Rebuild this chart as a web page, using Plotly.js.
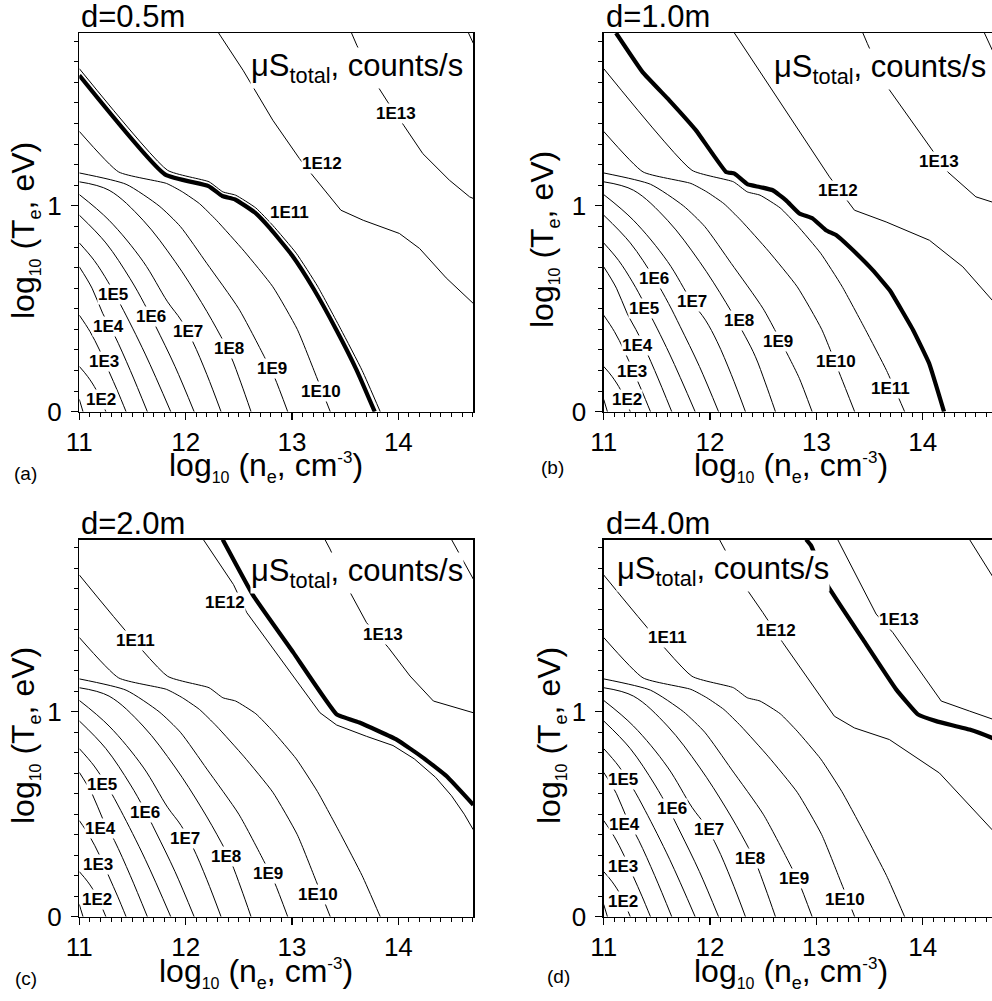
<!DOCTYPE html>
<html>
<head>
<meta charset="utf-8">
<script src="https://cdn.plot.ly/plotly-3.0.1.min.js"></script>
<style>
html,body{margin:0;padding:0;overflow:hidden;background:#fff;}
#chart{width:1000px;height:1001px;}
</style>
</head>
<body>
<div id="chart"></div>
<script>
// ---------------- DATA ----------------
// Shared low-density contour family (identical in all four panels): log10(ne), log10(Te)
const E1_x = [11.0, 11.035];                       const E1_y = [0.06, 0];
const E2_x = [11.0, 11.08, 11.16, 11.25];          const E2_y = [0.22, 0.17, 0.105, 0];
const E3_x = [11.0, 11.1, 11.19, 11.28, 11.36, 11.44];
const E3_y = [0.469, 0.39, 0.30, 0.194, 0.10, 0];
const E4_x = [11.0, 11.12, 11.22, 11.33, 11.48, 11.64];
const E4_y = [0.704, 0.60, 0.478, 0.372, 0.20, 0];
const E5_x = [11.0, 11.14, 11.27, 11.39, 11.62, 11.86];
const E5_y = [0.82, 0.735, 0.631, 0.518, 0.28, 0];
const E6_x = [11.0, 11.25, 11.477, 11.61, 11.72, 11.9, 12.08];
const E6_y = [0.955, 0.82, 0.647, 0.526, 0.413, 0.22, 0];
const E7_x = [11.0, 11.28, 11.6, 11.83, 11.957, 12.067, 12.2, 12.333];
const E7_y = [1.055, 0.93, 0.73, 0.534, 0.445, 0.34, 0.18, 0];
const E8_x = [11.0, 11.28, 11.6, 11.9, 12.15, 12.333, 12.427, 12.52, 12.615];
const E8_y = [1.117, 1.076, 0.93, 0.73, 0.53, 0.364, 0.267, 0.14, 0];
const E9_x = [11.0, 11.44, 11.75, 11.95, 12.2, 12.5, 12.74, 12.84, 12.96];
const E9_y = [1.16, 1.105, 1.0, 0.9, 0.72, 0.5, 0.267, 0.162, 0];
const E10_x = [11.0, 11.37, 11.82, 11.97, 12.13, 12.29, 12.55, 12.82, 13.05, 13.23, 13.36];
const E10_y = [1.362, 1.165, 1.109, 1.068, 1.011, 0.93, 0.78, 0.607, 0.40, 0.17, 0];
const E11_x = [11.0, 11.83, 12.22, 12.35, 12.47, 12.66, 12.82, 13.04, 13.24, 13.46, 13.66, 13.83];
const E11_y = [1.667, 1.173, 1.117, 1.068, 1.052, 0.99, 0.905, 0.77, 0.61, 0.40, 0.2, 0];

// Panel (a) d=0.5m
const a_E12_x = [12.31, 12.54, 12.82, 13.07, 13.18, 13.46, 13.67, 14.01, 14.2, 14.45, 14.705];
const a_E12_y = [1.84, 1.659, 1.416, 1.23, 1.157, 0.979, 0.93, 0.866, 0.793, 0.65, 0.526];
const a_E13_x = [13.56, 13.61, 13.79, 13.90, 14.05, 14.23, 14.48, 14.67, 14.705];
const a_E13_y = [1.84, 1.78, 1.594, 1.505, 1.392, 1.254, 1.125, 1.044, 1.036];
const a_E14_x = [14.66, 14.705];  const a_E14_y = [1.84, 1.79];
const a_thick_x = [11.0, 11.805, 12.215, 12.345, 12.465, 12.65, 12.79, 13.0, 13.2, 13.42, 13.61, 13.778];
const a_thick_y = [1.634, 1.153, 1.096, 1.048, 1.031, 0.968, 0.893, 0.76, 0.6, 0.395, 0.2, 0];

// Panel (b) d=1.0m
const b_E12_x = [12.229, 12.6, 13.0, 13.123, 13.358, 13.656, 14.063, 14.377, 14.653, 14.705];
const b_E12_y = [1.84, 1.55, 1.24, 1.141, 0.979, 0.922, 0.833, 0.704, 0.542, 0.51];
const b_E13_x = [13.437, 13.48, 13.656, 14.063, 14.235, 14.50, 14.653, 14.705];
const b_E13_y = [1.84, 1.788, 1.586, 1.286, 1.165, 1.044, 1.019, 1.01];
const b_E14_x = [14.58, 14.65, 14.705];  const b_E14_y = [1.84, 1.764, 1.70];
const b_thick_x = [11.116, 11.366, 11.617, 11.868, 12.15, 12.23, 12.355, 12.465, 12.59, 12.715, 12.84, 12.965, 13.09, 13.185, 13.31, 13.53, 13.69, 13.91, 14.06, 14.2];
const b_thick_y = [1.84, 1.65, 1.513, 1.367, 1.165, 1.157, 1.104, 1.092, 1.076, 1.027, 0.963, 0.939, 0.882, 0.858, 0.801, 0.688, 0.59, 0.396, 0.235, 0];

// Panel (c) d=2.0m
const c_E12_x = [12.166, 12.45, 12.574, 13.263, 13.42, 13.70, 13.95, 14.15, 14.35, 14.5, 14.62, 14.705];
const c_E12_y = [1.84, 1.62, 1.484, 0.995, 0.935, 0.88, 0.835, 0.77, 0.68, 0.59, 0.5, 0.424];
const c_E13_x = [13.31, 13.357, 13.53, 13.70, 13.906, 14.11, 14.33, 14.705];
const c_E13_y = [1.84, 1.794, 1.598, 1.435, 1.313, 1.174, 1.052, 0.995];
const c_E14_x = [14.50, 14.705];  const c_E14_y = [1.84, 1.647];
const c_thick_x = [12.348, 12.636, 13.013, 13.42, 13.64, 13.984, 14.235, 14.455, 14.705];
const c_thick_y = [1.84, 1.566, 1.288, 0.987, 0.946, 0.864, 0.775, 0.685, 0.546];

// Panel (d) d=4.0m
const d_E12_x = [12.088, 12.323, 12.496, 12.684, 13.169, 13.357, 13.687, 14.157, 14.653, 14.705];
const d_E12_y = [1.84, 1.614, 1.484, 1.337, 0.978, 0.921, 0.864, 0.701, 0.424, 0.39];
const d_E13_x = [13.20, 13.562, 13.719, 14.174, 14.44, 14.653, 14.705];
const d_E13_y = [1.84, 1.476, 1.386, 1.052, 1.003, 0.962, 0.955];
const d_E14_x = [14.44, 14.653, 14.705];  const d_E14_y = [1.84, 1.663, 1.62];
const d_thick_x = [12.903, 12.95, 13.107, 13.436, 13.75, 13.954, 14.126, 14.44, 14.653, 14.705];
const d_thick_y = [1.84, 1.81, 1.614, 1.354, 1.109, 0.987, 0.954, 0.913, 0.872, 0.86];

// Contour labels
const levelLabels = ['1E2','1E3','1E4','1E5','1E6','1E7','1E8','1E9','1E10','1E11','1E12','1E13'];
const a_lab_x = [11.204, 11.235, 11.27, 11.32, 11.675, 12.02, 12.41, 12.81, 13.27, 12.975, 13.28, 13.98];
const a_lab_y = [0.057, 0.243, 0.416, 0.571, 0.461, 0.388, 0.308, 0.21, 0.097, 0.968, 1.205, 1.448];
const b_lab_x = [11.217, 11.267, 11.32, 11.38, 11.477, 11.83, 12.27, 12.636, 13.185, 13.70, 13.2, 14.15];
const b_lab_y = [0.057, 0.194, 0.324, 0.502, 0.647, 0.534, 0.445, 0.34, 0.243, 0.113, 1.076, 1.218];
const c_lab_x = [11.163, 11.18, 11.2, 11.21, 11.62, 11.994, 12.38, 12.777, 13.248, 11.533, 12.37, 13.853];
const c_lab_y = [0.082, 0.253, 0.432, 0.644, 0.506, 0.383, 0.294, 0.212, 0.106, 1.345, 1.533, 1.378];
const d_lab_x = [11.178, 11.185, 11.194, 11.178, 11.643, 11.994, 12.376, 12.793, 13.273, 11.602, 12.621, 13.775];
const d_lab_y = [0.073, 0.245, 0.448, 0.669, 0.53, 0.424, 0.285, 0.188, 0.085, 1.362, 1.394, 1.448];

const panelTitles = ['d=0.5m', 'd=1.0m', 'd=2.0m', 'd=4.0m'];
const panelTags = ['(a)', '(b)', '(c)', '(d)'];
const xTickVals = [11, 12, 13, 14];
const yTickVals = [0, 1];

// ---------------- BUILD ----------------
const FONT = 'Liberation Sans, Arial, Helvetica, sans-serif';
const shared = [
  [E1_x,E1_y,1],[E2_x,E2_y,1],[E3_x,E3_y,1],[E4_x,E4_y,1],[E5_x,E5_y,1],
  [E6_x,E6_y,1],[E7_x,E7_y,1],[E8_x,E8_y,1],[E9_x,E9_y,0.6],[E10_x,E10_y,0.5],[E11_x,E11_y,0.45]
];
const panels = [
  {xa:'x',  ya:'y',  E12:[a_E12_x,a_E12_y], E13:[a_E13_x,a_E13_y], E14:[a_E14_x,a_E14_y], thick:[a_thick_x,a_thick_y], ts:0.45, lx:a_lab_x, ly:a_lab_y},
  {xa:'x2', ya:'y2', E12:[b_E12_x,b_E12_y], E13:[b_E13_x,b_E13_y], E14:[b_E14_x,b_E14_y], thick:[b_thick_x,b_thick_y], ts:0.3, lx:b_lab_x, ly:b_lab_y},
  {xa:'x3', ya:'y3', E12:[c_E12_x,c_E12_y], E13:[c_E13_x,c_E13_y], E14:[c_E14_x,c_E14_y], thick:[c_thick_x,c_thick_y], ts:0.3, lx:c_lab_x, ly:c_lab_y},
  {xa:'x4', ya:'y4', E12:[d_E12_x,d_E12_y], E13:[d_E13_x,d_E13_y], E14:[d_E14_x,d_E14_y], thick:[d_thick_x,d_thick_y], ts:0.3, lx:d_lab_x, ly:d_lab_y}
];

function lineTrace(x, y, xa, ya, w, smooth) {
  return {type:'scatter', mode:'lines', x:x, y:y, xaxis:xa, yaxis:ya,
    line:{color:'black', width:w, shape: smooth > 0 ? 'spline' : 'linear', smoothing: smooth > 0 ? smooth : 1},
    hoverinfo:'skip', showlegend:false};
}

const traces = [];
const annotations = [];
panels.forEach(function(p, i){
  shared.forEach(function(s){ traces.push(lineTrace(s[0], s[1], p.xa, p.ya, 1, s[2])); });
  traces.push(lineTrace(p.E12[0], p.E12[1], p.xa, p.ya, 1, 0));
  traces.push(lineTrace(p.E13[0], p.E13[1], p.xa, p.ya, 1, 0));
  traces.push(lineTrace(p.E14[0], p.E14[1], p.xa, p.ya, 1, 0));
  traces.push(lineTrace(p.thick[0], p.thick[1], p.xa, p.ya, 4.2, p.ts));
  levelLabels.forEach(function(t, k){
    annotations.push({xref:p.xa, yref:p.ya, x:p.lx[k], y:p.ly[k], text:'<b>'+t+'</b>', showarrow:false,
      font:{family:FONT, size:17, color:'black'}, bgcolor:'white', borderpad:0, xanchor:'center', yanchor:'middle'});
  });
});

// Panel geometry (paper fractions) for a 1000 x 1001 layout
const W = 1000, H = 1001;
const colL = [79.3/W, 473.3/W], colR = [603.7/W, 997.7/W];
const rowT = [1-411.7/H, 1-33/H], rowB = [1-916.7/H, 1-539.5/H];

const muPos = [[12.606,1.672,'x','y'],[12.59,1.663,'x2','y2'],[12.606,1.677,'x3','y3'],[11.116,1.684,'x4','y4']];
muPos.forEach(function(m){
  annotations.push({xref:m[2], yref:m[3], x:m[0], y:m[1], xanchor:'left', yanchor:'middle', showarrow:false,
    text:'μS<sub>total</sub>, counts/s', font:{family:FONT, size:31, color:'black'}, bgcolor:'white', borderpad:0});
});

const titleLeft = [colL[0], colR[0], colL[0], colR[0]];
const titleTop = [rowT[1], rowT[1], rowB[1], rowB[1]];
panelTitles.forEach(function(t, i){
  annotations.push({xref:'paper', yref:'paper', x:titleLeft[i], y:titleTop[i], xanchor:'left', yanchor:'bottom',
    yshift:-3, showarrow:false, text:t, font:{family:FONT, size:31, color:'black'}});
});
const tagX = [25.5/W, 552.5/W, 25.5/W, 558.5/W];
const tagY = [1-473/H, 1-468/H, 1-978/H, 1-976/H];
panelTags.forEach(function(t, i){
  annotations.push({xref:'paper', yref:'paper', x:tagX[i], y:tagY[i], xanchor:'center', yanchor:'middle',
    showarrow:false, text:t, font:{family:FONT, size:19, color:'black'}});
});
const xTitle = 'log<sub><span style="font-size:16px">10</span></sub> (n<sub><span style="font-size:18px">e</span></sub>, cm<sup><span style="font-size:17px">-3</span></sup>)';
const yTitle = 'log<sub><span style="font-size:16px">10</span></sub> (T<sub><span style="font-size:18px">e</span></sub>, eV)';
const xtX = [266/W, 791/W, 256/W, 791/W];
const xtY = [1-467/H, 1-467/H, 1-973/H, 1-973/H];
const ytX = [25/W, 544/W, 25/W, 551/W];
const ytY = [1-231/H, 1-240/H, 1-736/H, 1-736/H];
for (let i = 0; i < 4; i++) {
  annotations.push({xref:'paper', yref:'paper', x:xtX[i], y:xtY[i], xanchor:'center', yanchor:'middle',
    showarrow:false, text:xTitle, font:{family:FONT, size:32, color:'black'}});
  annotations.push({xref:'paper', yref:'paper', x:ytX[i], y:ytY[i], xanchor:'center', yanchor:'middle',
    showarrow:false, text:yTitle, textangle:-90, font:{family:FONT, size:32, color:'black'}});
}

function xAxis(dom, anchor) {
  return {domain:dom, anchor:anchor, range:[11, 14.705], tickmode:'array', tickvals:xTickVals,
    ticks:'outside', ticklen:7, tickwidth:1.2, tickcolor:'black', showline:true, linecolor:'black', linewidth:1.3,
    mirror:true, showgrid:false, zeroline:false, ticklabelstandoff:0,
    tickfont:{family:FONT, size:26, color:'black'},
    minor:{dtick:0.1, tick0:11, ticks:'outside', ticklen:4, tickwidth:1, tickcolor:'black', showgrid:false}};
}
function yAxis(dom, anchor) {
  return {domain:dom, anchor:anchor, range:[0, 1.84], tickmode:'array', tickvals:yTickVals,
    ticks:'outside', ticklen:7, tickwidth:1.2, tickcolor:'black', showline:true, linecolor:'black', linewidth:1.3,
    mirror:true, showgrid:false, zeroline:false, ticklabelstandoff:4,
    tickfont:{family:FONT, size:26, color:'black'},
    minor:{dtick:0.1, tick0:0, ticks:'outside', ticklen:4, tickwidth:1, tickcolor:'black', showgrid:false}};
}

const layout = {
  width:W, height:H, margin:{l:0, r:0, t:0, b:0}, paper_bgcolor:'white', plot_bgcolor:'white',
  showlegend:false, font:{family:FONT, color:'black'},
  xaxis:xAxis(colL,'y'),   yaxis:yAxis(rowT,'x'),
  xaxis2:xAxis(colR,'y2'), yaxis2:yAxis(rowT,'x2'),
  xaxis3:xAxis(colL,'y3'), yaxis3:yAxis(rowB,'x3'),
  xaxis4:xAxis(colR,'y4'), yaxis4:yAxis(rowB,'x4'),
  annotations:annotations
};
Plotly.newPlot('chart', traces, layout, {staticPlot:true, displayModeBar:false});
</script>
</body>
</html>
